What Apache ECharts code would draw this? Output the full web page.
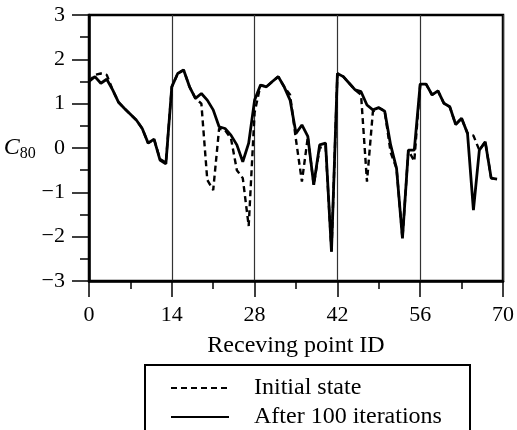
<!DOCTYPE html>
<html>
<head>
<meta charset="utf-8">
<script src="https://cdn.jsdelivr.net/npm/echarts@6/dist/echarts.min.js"></script>
<style>
  html, body { margin: 0; padding: 0; background: #fff; }
  #chart { width: 517px; height: 430px; }
</style>
</head>
<body>
<div id="chart"></div>
<script>
// receiving point IDs 0..69 (5 groups of 14)
const pointIds = Array.from({ length: 70 }, (_, i) => i);

// C80 at the initial state (dashed)
const initialC80 = [
  1.50, 1.65, 1.68, 1.65, 1.31, 1.03, 0.89, 0.76, 0.63, 0.44, 0.11, 0.20, -0.25, -0.33,
  1.38, 1.68, 1.76, 1.38, 1.12, 1.00, -0.72, -0.95, 0.44, 0.40, 0.22, -0.50, -0.68, -1.76,
  0.80, 1.42, 1.38, 1.50, 1.61, 1.38, 1.20, 0.18, -0.76, 0.25, -0.83, 0.00, 0.05, -2.34,
  1.68, 1.61, 1.46, 1.31, 1.20, -0.76, 0.82, 0.91, 0.83, -0.10, -0.46, -2.04, -0.05, -0.30,
  1.44, 1.44, 1.20, 1.29, 1.01, 0.93, 0.53, 0.67, 0.33, 0.28, -0.05, 0.14, -0.68, -0.70
];

// C80 after 100 iterations (solid)
const afterC80 = [
  1.50, 1.61, 1.46, 1.55, 1.31, 1.03, 0.89, 0.76, 0.63, 0.44, 0.11, 0.20, -0.27, -0.36,
  1.38, 1.68, 1.76, 1.38, 1.12, 1.23, 1.08, 0.86, 0.48, 0.44, 0.29, 0.07, -0.31, 0.11,
  1.08, 1.42, 1.38, 1.50, 1.61, 1.38, 1.08, 0.33, 0.52, 0.26, -0.83, 0.07, 0.11, -2.34,
  1.68, 1.61, 1.46, 1.31, 1.27, 0.97, 0.86, 0.91, 0.83, 0.07, -0.46, -2.04, -0.05, -0.05,
  1.44, 1.44, 1.20, 1.29, 1.01, 0.93, 0.53, 0.67, 0.33, -1.40, -0.05, 0.14, -0.68, -0.70
];

const seriesNames = ['Initial state', 'After 100 iterations'];

const xTicks = { min: 0, max: 70, interval: 14 };
const yTicks = { min: -3, max: 3, interval: 1 };

const FONT = '"Liberation Serif", "DejaVu Serif", serif';

const chart = echarts.init(document.getElementById('chart'));

const toPairs = vals => pointIds.map((id, i) => [id, vals[i]]);

// one legend per entry, stacked; the frame is drawn as a graphic
const legendBase = {
  left: 170, padding: 0,
  itemWidth: 58, itemHeight: 20,
  itemStyle: { opacity: 0 },
  textStyle: { fontFamily: FONT, fontSize: 24, color: '#000', padding: [0, 0, 0, 20] }
};

chart.setOption({
  animation: false,
  grid: {
    left: 89, right: 11, top: 15, bottom: 149,
    show: true, borderColor: '#000', borderWidth: 2.5
  },
  legend: [
    Object.assign({ data: [seriesNames[0]], top: 376 }, legendBase),
    Object.assign({ data: [seriesNames[1]], top: 405 }, legendBase)
  ],
  graphic: [{
    type: 'rect',
    shape: { x: 145, y: 365, width: 325, height: 72 },
    style: { fill: 'none', stroke: '#000', lineWidth: 2 }
  }],
  xAxis: {
    type: 'value',
    min: xTicks.min, max: xTicks.max, interval: xTicks.interval,
    name: 'Receving point ID',
    nameLocation: 'middle', nameGap: 53,
    nameTextStyle: { fontFamily: FONT, fontSize: 24, color: '#000' },
    axisLine: { onZero: false, lineStyle: { color: '#000', width: 2.5 } },
    axisTick: { length: 16, lineStyle: { color: '#000', width: 1.5 } },
    minorTick: { show: true, splitNumber: 2, length: 8, lineStyle: { color: '#000', width: 1.5 } },
    splitLine: { show: true, lineStyle: { color: '#333', width: 1.2 } },
    axisLabel: { fontFamily: FONT, fontSize: 22, color: '#000', margin: 23 }
  },
  yAxis: {
    type: 'value',
    min: yTicks.min, max: yTicks.max, interval: yTicks.interval,
    name: '{c|C}{s|80}',
    nameLocation: 'middle', nameRotate: 0, nameGap: 49,
    nameTextStyle: {
      rich: {
        c: { fontFamily: FONT, fontSize: 24, fontStyle: 'italic', color: '#000' },
        s: { fontFamily: FONT, fontSize: 16, color: '#000', verticalAlign: 'bottom', padding: [12, 0, 0, 0] }
      }
    },
    axisLine: { onZero: false, lineStyle: { color: '#000', width: 2.5 } },
    axisTick: { length: 17, lineStyle: { color: '#000', width: 1.5 } },
    minorTick: { show: true, splitNumber: 2, length: 9, lineStyle: { color: '#000', width: 1.5 } },
    splitLine: { show: false },
    axisLabel: {
      fontFamily: FONT, fontSize: 22, color: '#000', margin: 24,
      formatter: v => (v < 0 ? '\u2212' + Math.abs(v) : String(v))
    }
  },
  series: [
    {
      name: seriesNames[0],
      type: 'line',
      data: toPairs(initialC80),
      symbol: 'none',
      lineStyle: { color: '#000', width: 2.4, type: [6, 4] },
      itemStyle: { color: '#000' }
    },
    {
      name: seriesNames[1],
      type: 'line',
      data: toPairs(afterC80),
      symbol: 'none',
      lineStyle: { color: '#000', width: 2.8 },
      itemStyle: { color: '#000' }
    }
  ]
});
</script>
</body>
</html>
